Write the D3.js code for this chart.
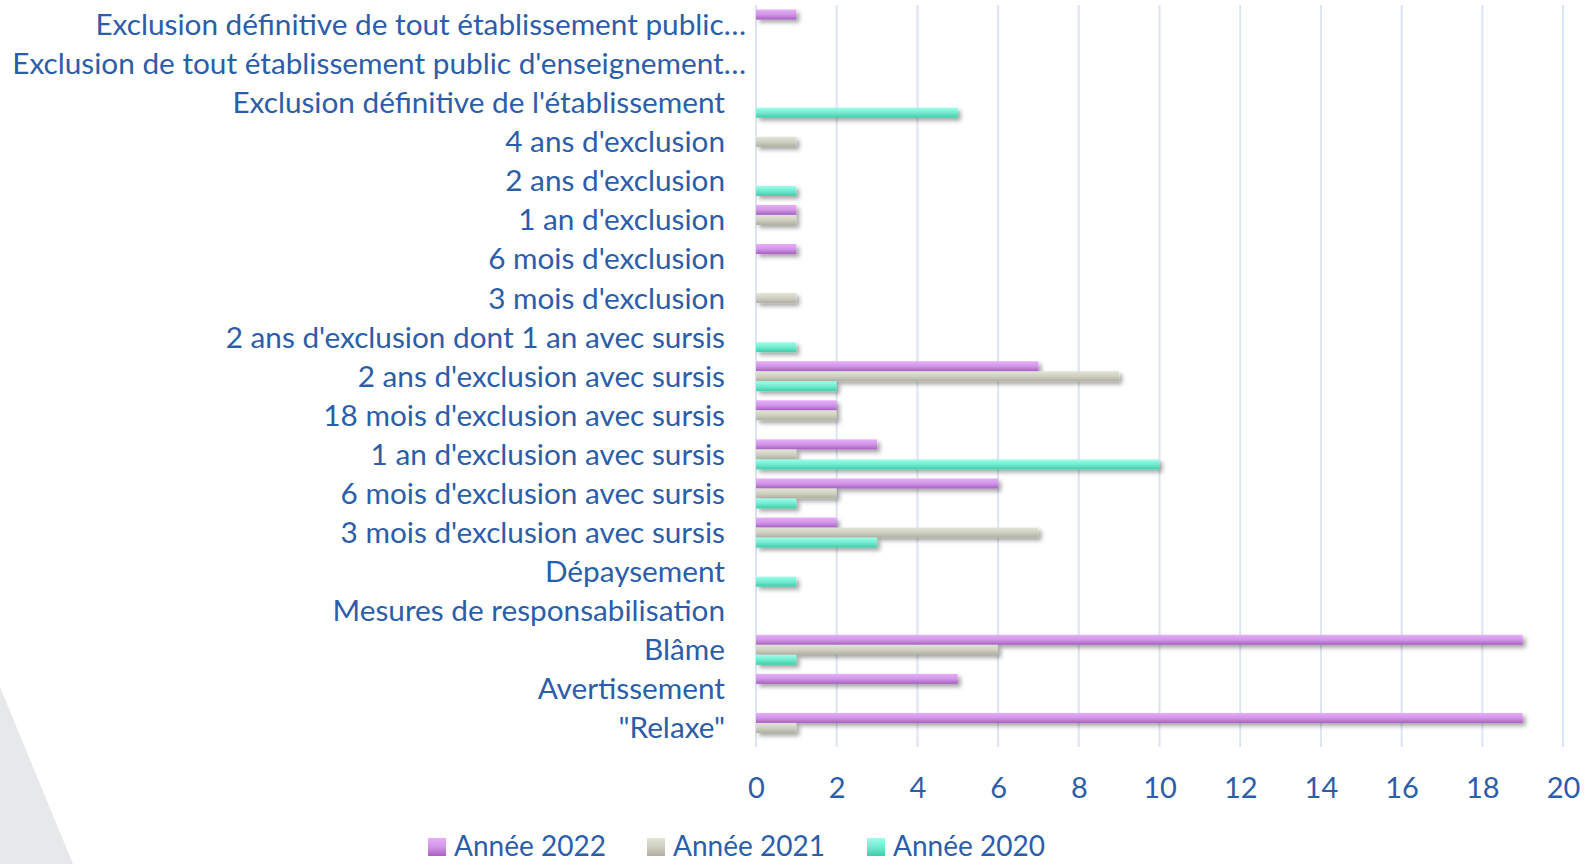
<!DOCTYPE html>
<html><head><meta charset="utf-8">
<script src="https://cdn.jsdelivr.net/npm/d3@7/dist/d3.min.js"></script>
<style>
html,body{margin:0;padding:0;background:#fff;overflow:hidden}
svg{display:block}
</style></head>
<body>
<svg id="c" width="1596" height="864"></svg>
<script>
const categories = [
  "Exclusion définitive de tout établissement public…",
  "Exclusion de tout établissement public d'enseignement…",
  "Exclusion définitive de l'établissement",
  "4 ans d'exclusion",
  "2 ans d'exclusion",
  "1 an d'exclusion",
  "6 mois d'exclusion",
  "3 mois d'exclusion",
  "2 ans d'exclusion dont 1 an avec sursis",
  "2 ans d'exclusion avec sursis",
  "18 mois d'exclusion avec sursis",
  "1 an d'exclusion avec sursis",
  "6 mois d'exclusion avec sursis",
  "3 mois d'exclusion avec sursis",
  "Dépaysement",
  "Mesures de responsabilisation",
  "Blâme",
  "Avertissement",
  "\"Relaxe\""
];
const seriesNames = ["Année 2022", "Année 2021", "Année 2020"];
const values2022 = [1,0,0,0,0,1,1,0,0,7,2,3,6,2,0,0,19,5,19];
const values2021 = [0,0,0,1,0,1,0,1,0,9,2,1,2,7,0,0,6,0,1];
const values2020 = [0,0,5,0,1,0,0,0,1,2,0,10,1,3,1,0,1,0,0];
const xTicks = [0,2,4,6,8,10,12,14,16,18,20];

const seriesValues = [values2022, values2021, values2020];
const gradStops = [
  ["#E6ADF7", "#D196E8", "#A95FC2"],
  ["#E2E4D6", "#CFD0C2", "#AEAFA0"],
  ["#9CFFEA", "#72EBD0", "#3FCDA8"]
];
const textColor = "#2C5DA9";
const font = "Lato, 'Open Sans', sans-serif";

const svg = d3.select("#c");
const defs = svg.append("defs");
seriesNames.forEach((s, i) => {
  const g = defs.append("linearGradient").attr("id", "g" + i)
    .attr("x1", 0).attr("y1", 0).attr("x2", 0).attr("y2", 1);
  g.append("stop").attr("offset", "0%").attr("stop-color", gradStops[i][0]);
  g.append("stop").attr("offset", "50%").attr("stop-color", gradStops[i][1]);
  g.append("stop").attr("offset", "100%").attr("stop-color", gradStops[i][2]);
});
const f = defs.append("filter").attr("id", "sh").attr("x", "-5%").attr("y", "-50%").attr("width", "120%").attr("height", "250%");
f.append("feDropShadow").attr("dx", 3).attr("dy", 3).attr("stdDeviation", 2.2)
  .attr("flood-color", "#000").attr("flood-opacity", 0.35);

// background decoration
svg.append("path").attr("d", "M0,687 L73,864 L0,864 Z").attr("fill", "#E7E8E9");

const x = d3.scaleLinear().domain([0, 20]).range([756, 1563]);
const y = d3.scaleBand().domain(categories).range([5, 747.5]);
const inner = d3.scaleBand().domain(seriesNames).range([0, 30]);

// gridlines
svg.append("g").selectAll("line").data(xTicks).join("line")
  .attr("x1", d => x(d)).attr("x2", d => x(d))
  .attr("y1", 5).attr("y2", 747)
  .attr("stroke", "#DCE5F3").attr("stroke-width", 2);

// bars
seriesNames.forEach((s, i) => {
  const data = categories.map((c, k) => ({c, v: seriesValues[i][k]})).filter(d => d.v > 0);
  svg.append("g").attr("filter", "url(#sh)").selectAll("rect").data(data).join("rect")
    .attr("x", x(0))
    .attr("y", d => y(d.c) + y.bandwidth() / 2 - 15 + inner(s))
    .attr("width", d => x(d.v) - x(0))
    .attr("height", inner.bandwidth())
    .attr("fill", "url(#g" + i + ")");
});

// category labels
const lab = svg.append("g").selectAll("text").data(categories).join("text")
  .attr("x", d => d.endsWith("…") ? 746 : 725)
  .attr("y", d => y(d) + y.bandwidth() / 2)
  .attr("dy", "0.35em")
  .attr("text-anchor", "end")
  .attr("fill", textColor)
  .style("font-family", font)
  .style("font-size", "26px")
  .text(d => d);
const longest = lab.filter(d => d === categories[1]).node().getComputedTextLength();
const labSize = 26 * 734 / longest;
lab.style("font-size", labSize + "px");

// x axis tick labels
const xAxis = d3.axisBottom(x).tickValues(xTicks).tickSize(0).tickPadding(0);
const ax = svg.append("g").attr("transform", "translate(0,798)").call(xAxis);
ax.select(".domain").remove();
ax.selectAll("text").attr("y", 0).attr("dy", 0)
  .attr("fill", textColor).style("font-family", font).style("font-size", "29px");

// legend
const legX = [428, 647, 867];
const leg = svg.append("g").selectAll("g").data(seriesNames).join("g")
  .attr("transform", (d, i) => `translate(${legX[i]},0)`);
leg.append("rect").attr("x", 0).attr("y", 838).attr("width", 18).attr("height", 18)
  .attr("fill", (d, i) => "url(#g" + i + ")");
const lt = leg.append("text").attr("x", 26).attr("y", 856)
  .attr("fill", textColor).style("font-family", font).style("font-size", "30px")
  .text(d => d);
const lw = lt.node().getComputedTextLength();
lt.style("font-size", (30 * 152 / lw) + "px");
</script>
</body></html>
